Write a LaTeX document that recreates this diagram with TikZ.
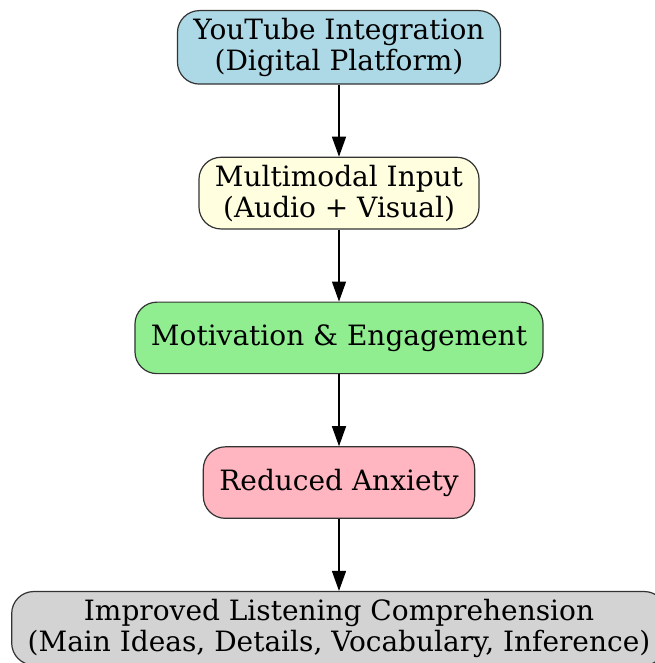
\documentclass[tikz,border=0pt]{standalone}
\usepackage{fontspec}
\setmainfont{DejaVu Serif}
\usetikzlibrary{positioning,arrows.meta}

\definecolor{lblue}{HTML}{ADD8E6}
\definecolor{lyellow}{HTML}{FFFFE0}
\definecolor{lgreen}{HTML}{90EE90}
\definecolor{lpink}{HTML}{FFB6C1}
\definecolor{lgrey}{HTML}{D3D3D3}

\begin{document}
\begin{tikzpicture}[node distance={72pt}, main/.style = {draw=black!80, line width=1.2pt, rounded corners=22pt, align=center, inner xsep=16pt, inner ysep=7.5pt, minimum height=71.5pt, font=\fontsize{28}{31}\selectfont}, arr/.style = {-{Triangle[length=20pt,width=14pt]}, line width=1.3pt}]
    \useasboundingbox (0,0) rectangle (654pt,-663pt);
    \node[main, fill=lblue, anchor=north] (yt) at (339pt,-10pt) {YouTube Integration\\(Digital Platform)};
    \node[main, fill=lyellow] (input) [below=of yt] {Multimodal Input\\(Audio + Visual)};
    \node[main, fill=lgreen] (motiv) [below=of input] {Motivation \& Engagement};
    \node[main, fill=lpink] (anx) [below=of motiv] {Reduced Anxiety};
    \node[main, fill=lgrey] (comp) [below=of anx] {Improved Listening Comprehension\\(Main Ideas, Details, Vocabulary, Inference)};
    \draw[arr] (yt)--(input);
    \draw[arr] (input)--(motiv);
    \draw[arr] (motiv)--(anx);
    \draw[arr] (anx)--(comp);
\end{tikzpicture}
\end{document}
